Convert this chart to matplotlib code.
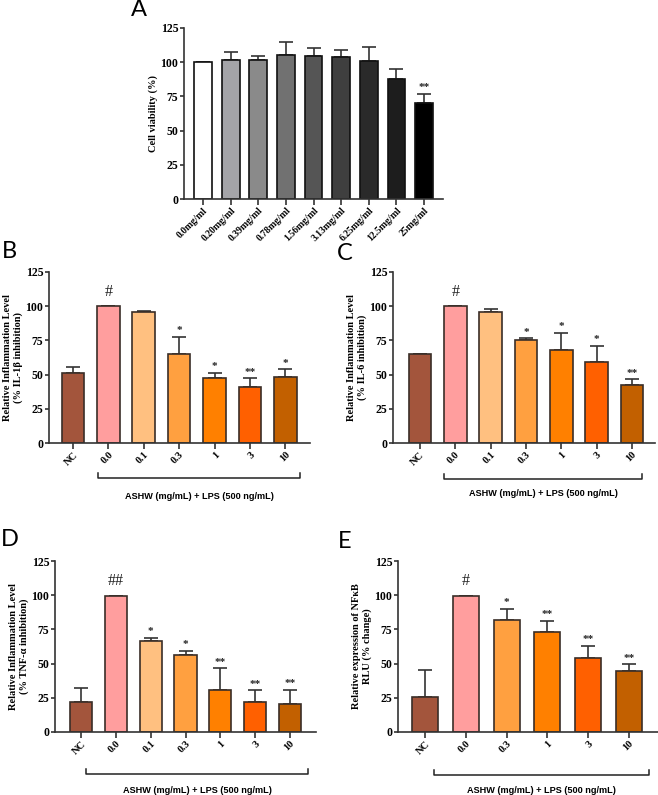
import numpy as np
import matplotlib
matplotlib.use("Agg")
import matplotlib.pyplot as plt
import matplotlib.transforms as mtransforms

# ---- data ----
a_labels = ["0.0mg/ml", "0.20mg/ml", "0.39mg/ml", "0.78mg/ml", "1.56mg/ml",
            "3.13mg/ml", "6.25mg/ml", "12.5mg/ml", "25mg/ml"]
a_vals = [100, 101.9, 101.9, 105.5, 104.3, 103.8, 100.6, 87.5, 70.2]
a_err = [0, 5.3, 2.9, 9.0, 5.8, 5.4, 10.5, 7.5, 6.6]
a_marks = ["", "", "", "", "", "", "", "", "**"]
a_colors = ["#ffffff", "#a4a4a8", "#8a8a8a", "#717171", "#555555",
            "#3f3f3f", "#2a2a2a", "#1d1d1d", "#000000"]

b_labels = ["NC", "0.0", "0.1", "0.3", "1", "3", "10"]
b_vals = [50.9, 99.8, 95.6, 64.8, 47.7, 41.1, 48.2]
b_err = [4.9, 0, 0.8, 12.7, 3.7, 6.1, 5.6]
b_marks = ["", "#", "", "*", "*", "**", "*"]

c_labels = ["NC", "0.0", "0.1", "0.3", "1", "3", "10"]
c_vals = [64.8, 99.8, 95.4, 75.1, 68.0, 59.4, 42.1]
c_err = [0.6, 0, 2.4, 1.4, 12.7, 11.6, 4.4]
c_marks = ["", "#", "", "*", "*", "*", "**"]

d_labels = ["NC", "0.0", "0.1", "0.3", "1", "3", "10"]
d_vals = [21.7, 99.7, 66.5, 56.5, 30.5, 21.7, 20.7]
d_err = [10.7, 0, 2.2, 2.7, 16.0, 8.8, 10.2]
d_marks = ["", "##", "*", "*", "**", "**", "**"]

e_labels = ["NC", "0.0", "0.3", "1", "3", "10"]
e_vals = [25.6, 99.7, 82.1, 72.9, 54.1, 44.8]
e_err = [19.4, 0, 7.8, 8.5, 9.0, 4.7]
e_marks = ["", "#", "*", "**", "**", "**"]

treat_colors = {"NC": "#a3553c", "0.0": "#ff9e9e", "0.1": "#ffc080",
                "0.3": "#ffa040", "1": "#ff8000", "3": "#ff6000", "10": "#c26000"}

SERIF = "Liberation Serif"
SANS = "Liberation Sans"

fig = plt.figure(figsize=(6.58, 7.95), dpi=100)
W, H = 658.0, 795.0


def make_ax(left, right, top, bottom):
    return fig.add_axes([left / W, 1 - bottom / H, (right - left) / W, (bottom - top) / H])


def bar_panel(ax, labels, vals, err, marks, colors, xlim, ylabel, edge):
    x = np.arange(len(vals))
    ax.bar(x, vals, width=0.64, color=colors, edgecolor=edge, linewidth=1.2, zorder=2)
    ax.errorbar(x, vals, yerr=[np.zeros(len(err)), err], fmt="none", ecolor="#333333",
                elinewidth=1.2, capsize=5, capthick=1.2, zorder=1)
    for xi, v, e, m in zip(x, vals, err, marks):
        if m:
            big = m.startswith("#")
            ax.text(xi, v + e + (4.5 if big else 1.2), m, ha="center", va="bottom",
                    fontsize=11.5 if big else 8, family=SERIF,
                    fontweight="bold" if not big else "normal", color="#222222")
    ax.set_xlim(*xlim)
    ax.set_ylim(0, 125)
    ax.set_yticks([0, 25, 50, 75, 100, 125])
    ax.set_xticks(x)
    ax.set_xticklabels(labels, rotation=45, ha="right", rotation_mode="anchor",
                       family=SERIF, fontweight="bold", fontsize=7.5)
    for t in ax.get_yticklabels():
        t.set_family(SERIF)
        t.set_fontweight("bold")
        t.set_fontsize(8.5)
    ax.spines["top"].set_visible(False)
    ax.spines["right"].set_visible(False)
    for s in ("left", "bottom"):
        ax.spines[s].set_linewidth(1.2)
        ax.spines[s].set_color("#333333")
    ax.tick_params(axis="both", direction="out", width=1.2, color="#333333", pad=1)
    ax.tick_params(axis="y", length=3)
    ax.tick_params(axis="x", length=4)
    ax.set_ylabel(ylabel, family=SERIF, fontweight="bold", fontsize=7.5, labelpad=2,
                  linespacing=1.15)


def bracket(ax, x0, x1, yb, ylab):
    tr = mtransforms.blended_transform_factory(ax.transData, ax.transAxes)
    ax.plot([x0, x0, x1, x1], [yb + 0.03, yb, yb, yb + 0.03], color="#222222", lw=1.1,
            transform=tr, clip_on=False)
    ax.text((x0 + x1) / 2, ylab, "ASHW (mg/mL) + LPS (500 ng/mL)", transform=tr,
            ha="center", va="center", family=SANS, fontweight="bold", fontsize=6.6)


# Panel A
axA = make_ax(184, 443, 28, 199)
bar_panel(axA, a_labels, a_vals, a_err, a_marks, a_colors, (-0.69, 8.69),
          "Cell viability (%)", "#111111")
for t in axA.get_xticklabels():
    t.set_fontsize(7)

# Panel B
axB = make_ax(49, 310, 272, 443)
bar_panel(axB, b_labels, b_vals, b_err, b_marks, [treat_colors[l] for l in b_labels],
          (-0.68, 6.7), "Relative Inflammation Level\n(% IL-1\u03b2 inhibition)", "#3a2e28")
bracket(axB, 0.71, 6.43, -0.205, -0.31)

# Panel C
axC = make_ax(393, 655, 272, 443)
bar_panel(axC, c_labels, c_vals, c_err, c_marks, [treat_colors[l] for l in c_labels],
          (-0.76, 6.65), "Relative Inflammation Level\n(% IL-6 inhibition)", "#3a2e28")
bracket(axC, 0.68, 6.29, -0.21, -0.295)

# Panel D
axD = make_ax(55, 316, 561, 732)
bar_panel(axD, d_labels, d_vals, d_err, d_marks, [treat_colors[l] for l in d_labels],
          (-0.75, 6.75), "Relative Inflammation Level\n(% TNF-\u03b1 inhibition)", "#3a2e28")
bracket(axD, 0.14, 6.52, -0.246, -0.345)

# Panel E
axE = make_ax(398, 658, 561, 732)
bar_panel(axE, e_labels, e_vals, e_err, e_marks, [treat_colors[l] for l in e_labels],
          (-0.66, 5.71), "Relative expression of NF\u03baB\nRLU (% change)", "#3a2e28")
bracket(axE, 0.22, 5.49, -0.25, -0.345)

# panel letters
for letter, px, py in [("A", 139, 10), ("B", 9, 252), ("C", 345, 254),
                       ("D", 10, 539), ("E", 345, 541)]:
    fig.text(px / W, 1 - py / H, letter, ha="center", va="center", family="Lato",
             fontsize=17)

fig.savefig("out.png", dpi=100)
